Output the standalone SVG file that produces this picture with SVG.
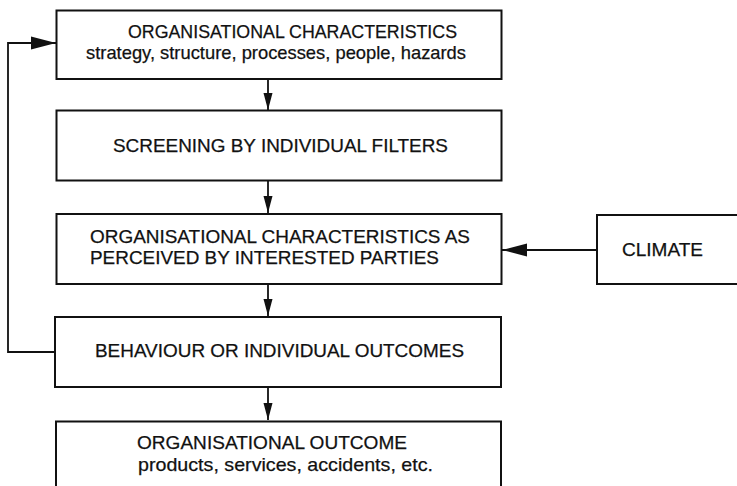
<svg xmlns="http://www.w3.org/2000/svg" width="737" height="486" viewBox="0 0 737 486">
<style>
.box{fill:#fff;stroke:#111;stroke-width:2}
.t{font-family:"Liberation Sans",Arial,sans-serif;font-size:19px;fill:#111;stroke:#111;stroke-width:0.25}
.c{fill:none;stroke:#111;stroke-width:1.8}
</style>
<defs>
<marker id="av" markerUnits="userSpaceOnUse" markerWidth="18" markerHeight="10" refX="17" refY="5" orient="auto">
<path d="M0,0.5 L17,5 L0,9.5 Z" fill="#111"/>
</marker>
<marker id="ah" markerUnits="userSpaceOnUse" markerWidth="26" markerHeight="14" refX="25" refY="7" orient="auto">
<path d="M0,0.5 L25,7 L0,13.5 Z" fill="#111"/>
</marker>
</defs>
<rect width="737" height="486" fill="#fff"/>
<g id="connectors">
<line class="c" x1="268" y1="79" x2="268" y2="110" marker-end="url(#av)"/>
<line class="c" x1="268" y1="180" x2="268" y2="213" marker-end="url(#av)"/>
<line class="c" x1="268" y1="284" x2="268" y2="316" marker-end="url(#av)"/>
<line class="c" x1="268" y1="387" x2="268" y2="420" marker-end="url(#av)"/>
<line class="c" x1="597" y1="250" x2="502" y2="250" marker-end="url(#ah)"/>
<polyline class="c" points="55,352 8,352 8,43 56,43" marker-end="url(#ah)"/>
</g>
<g id="n1">
<rect class="box" x="56.5" y="10.5" width="445" height="68.5"/>
<text class="t" x="128" y="38" textLength="329" lengthAdjust="spacingAndGlyphs">ORGANISATIONAL CHARACTERISTICS</text>
<text class="t" x="86" y="59" textLength="380" lengthAdjust="spacingAndGlyphs">strategy, structure, processes, people, hazards</text>
</g>
<g id="n2">
<rect class="box" x="56.5" y="110.5" width="445" height="70"/>
<text class="t" x="113" y="152" textLength="335" lengthAdjust="spacingAndGlyphs">SCREENING BY INDIVIDUAL FILTERS</text>
</g>
<g id="n3">
<rect class="box" x="56.5" y="214" width="445" height="70"/>
<text class="t" x="90" y="243" textLength="380" lengthAdjust="spacingAndGlyphs">ORGANISATIONAL CHARACTERISTICS AS</text>
<text class="t" x="90" y="264" textLength="349" lengthAdjust="spacingAndGlyphs">PERCEIVED BY INTERESTED PARTIES</text>
</g>
<g id="climate">
<rect class="box" x="597" y="215" width="150" height="69"/>
<text class="t" x="622" y="256" textLength="81" lengthAdjust="spacingAndGlyphs">CLIMATE</text>
</g>
<g id="n4">
<rect class="box" x="55" y="317" width="446" height="70"/>
<text class="t" x="95" y="357" textLength="369" lengthAdjust="spacingAndGlyphs">BEHAVIOUR OR INDIVIDUAL OUTCOMES</text>
</g>
<g id="n5">
<rect class="box" x="56" y="421.5" width="445" height="80"/>
<text class="t" x="137" y="449" textLength="270" lengthAdjust="spacingAndGlyphs">ORGANISATIONAL OUTCOME</text>
<text class="t" x="138" y="471" textLength="295" lengthAdjust="spacingAndGlyphs">products, services, accidents, etc.</text>
</g>
</svg>
